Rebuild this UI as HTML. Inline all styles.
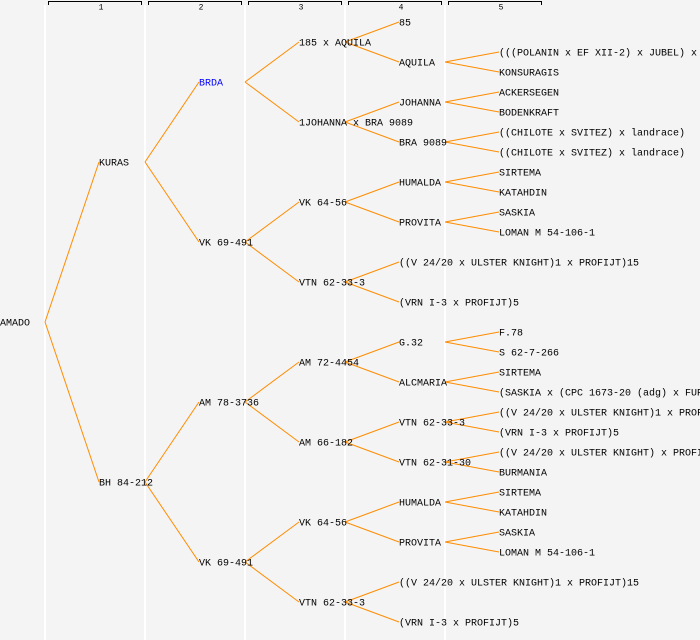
<!DOCTYPE html>
<html><head><meta charset="utf-8"><style>
html,body{margin:0;padding:0;background:#f4f4f4;}
svg{display:block;}
text{font-family:"Liberation Mono",monospace;font-size:10px;fill:#000;dominant-baseline:central;}
.h{font-size:8px;text-anchor:middle;}
line.c{stroke:#ff8c00;stroke-width:1;}
line.v{stroke:#fff;stroke-width:2;}
</style></head><body>
<svg width="700" height="640" viewBox="0 0 700 640">
<rect width="700" height="640" fill="#f4f4f4"/>
<g>
<line class="v" x1="45" y1="5" x2="45" y2="640"/>
<line class="v" x1="145" y1="5" x2="145" y2="640"/>
<line class="v" x1="245" y1="5" x2="245" y2="640"/>
<line class="v" x1="345" y1="5" x2="345" y2="640"/>
<line class="v" x1="445" y1="5" x2="445" y2="640"/>
</g>
<g fill="none" stroke="#000" stroke-width="1">
<path d="M48.5 5V1.5H141.5V5"/>
<path d="M148.5 5V1.5H241.5V5"/>
<path d="M248.5 5V1.5H341.5V5"/>
<path d="M348.5 5V1.5H441.5V5"/>
<path d="M448.5 5V1.5H541.5V5"/>
</g>
<text class="h" x="101" y="8">1</text>
<text class="h" x="201" y="8">2</text>
<text class="h" x="301" y="8">3</text>
<text class="h" x="401" y="8">4</text>
<text class="h" x="501" y="8">5</text>
<g>
<line class="c" x1="45" y1="322" x2="99" y2="162"/><line class="c" x1="45" y1="322" x2="99" y2="482"/>
<line class="c" x1="145" y1="162" x2="199" y2="82"/><line class="c" x1="145" y1="162" x2="199" y2="242"/>
<line class="c" x1="145" y1="482" x2="199" y2="402"/><line class="c" x1="145" y1="482" x2="199" y2="562"/>
<line class="c" x1="245" y1="82" x2="299" y2="42"/><line class="c" x1="245" y1="82" x2="299" y2="122"/>
<line class="c" x1="245" y1="242" x2="299" y2="202"/><line class="c" x1="245" y1="242" x2="299" y2="282"/>
<line class="c" x1="245" y1="402" x2="299" y2="362"/><line class="c" x1="245" y1="402" x2="299" y2="442"/>
<line class="c" x1="245" y1="562" x2="299" y2="522"/><line class="c" x1="245" y1="562" x2="299" y2="602"/>
<line class="c" x1="345" y1="42" x2="399" y2="22"/><line class="c" x1="345" y1="42" x2="399" y2="62"/>
<line class="c" x1="345" y1="122" x2="399" y2="102"/><line class="c" x1="345" y1="122" x2="399" y2="142"/>
<line class="c" x1="345" y1="202" x2="399" y2="182"/><line class="c" x1="345" y1="202" x2="399" y2="222"/>
<line class="c" x1="345" y1="282" x2="399" y2="262"/><line class="c" x1="345" y1="282" x2="399" y2="302"/>
<line class="c" x1="345" y1="362" x2="399" y2="342"/><line class="c" x1="345" y1="362" x2="399" y2="382"/>
<line class="c" x1="345" y1="442" x2="399" y2="422"/><line class="c" x1="345" y1="442" x2="399" y2="462"/>
<line class="c" x1="345" y1="522" x2="399" y2="502"/><line class="c" x1="345" y1="522" x2="399" y2="542"/>
<line class="c" x1="345" y1="602" x2="399" y2="582"/><line class="c" x1="345" y1="602" x2="399" y2="622"/>
<line class="c" x1="445" y1="62" x2="499" y2="52"/><line class="c" x1="445" y1="62" x2="499" y2="72"/>
<line class="c" x1="445" y1="102" x2="499" y2="92"/><line class="c" x1="445" y1="102" x2="499" y2="112"/>
<line class="c" x1="445" y1="142" x2="499" y2="132"/><line class="c" x1="445" y1="142" x2="499" y2="152"/>
<line class="c" x1="445" y1="182" x2="499" y2="172"/><line class="c" x1="445" y1="182" x2="499" y2="192"/>
<line class="c" x1="445" y1="222" x2="499" y2="212"/><line class="c" x1="445" y1="222" x2="499" y2="232"/>
<line class="c" x1="445" y1="342" x2="499" y2="332"/><line class="c" x1="445" y1="342" x2="499" y2="352"/>
<line class="c" x1="445" y1="382" x2="499" y2="372"/><line class="c" x1="445" y1="382" x2="499" y2="392"/>
<line class="c" x1="445" y1="422" x2="499" y2="412"/><line class="c" x1="445" y1="422" x2="499" y2="432"/>
<line class="c" x1="445" y1="462" x2="499" y2="452"/><line class="c" x1="445" y1="462" x2="499" y2="472"/>
<line class="c" x1="445" y1="502" x2="499" y2="492"/><line class="c" x1="445" y1="502" x2="499" y2="512"/>
<line class="c" x1="445" y1="542" x2="499" y2="532"/><line class="c" x1="445" y1="542" x2="499" y2="552"/>
</g>
<g transform="translate(0,2)">
<text x="0" y="322">AMADO</text>
<text x="99" y="162">KURAS</text>
<text x="99" y="482">BH 84-212</text>
<text x="199" y="82" style="fill:#0000ff">BRDA</text>
<text x="199" y="242">VK 69-491</text>
<text x="199" y="402">AM 78-3736</text>
<text x="199" y="562">VK 69-491</text>
<text x="299" y="42">185 x AQUILA</text>
<text x="299" y="122">1JOHANNA x BRA 9089</text>
<text x="299" y="202">VK 64-56</text>
<text x="299" y="282">VTN 62-33-3</text>
<text x="299" y="362">AM 72-4454</text>
<text x="299" y="442">AM 66-182</text>
<text x="299" y="522">VK 64-56</text>
<text x="299" y="602">VTN 62-33-3</text>
<text x="399" y="22">85</text>
<text x="399" y="62">AQUILA</text>
<text x="399" y="102">JOHANNA</text>
<text x="399" y="142">BRA 9089</text>
<text x="399" y="182">HUMALDA</text>
<text x="399" y="222">PROVITA</text>
<text x="399" y="262">((V 24/20 x ULSTER KNIGHT)1 x PROFIJT)15</text>
<text x="399" y="302">(VRN I-3 x PROFIJT)5</text>
<text x="399" y="342">G.32</text>
<text x="399" y="382">ALCMARIA</text>
<text x="399" y="422">VTN 62-33-3</text>
<text x="399" y="462">VTN 62-31-30</text>
<text x="399" y="502">HUMALDA</text>
<text x="399" y="542">PROVITA</text>
<text x="399" y="582">((V 24/20 x ULSTER KNIGHT)1 x PROFIJT)15</text>
<text x="399" y="622">(VRN I-3 x PROFIJT)5</text>
<text x="499" y="52">(((POLANIN x EF XII-2) x JUBEL) x</text>
<text x="499" y="72">KONSURAGIS</text>
<text x="499" y="92">ACKERSEGEN</text>
<text x="499" y="112">BODENKRAFT</text>
<text x="499" y="132">((CHILOTE x SVITEZ) x landrace)</text>
<text x="499" y="152">((CHILOTE x SVITEZ) x landrace)</text>
<text x="499" y="172">SIRTEMA</text>
<text x="499" y="192">KATAHDIN</text>
<text x="499" y="212">SASKIA</text>
<text x="499" y="232">LOMAN M 54-106-1</text>
<text x="499" y="332">F.78</text>
<text x="499" y="352">S 62-7-266</text>
<text x="499" y="372">SIRTEMA</text>
<text x="499" y="392">(SASKIA x (CPC 1673-20 (adg) x FUR</text>
<text x="499" y="412">((V 24/20 x ULSTER KNIGHT)1 x PROFIJT)15</text>
<text x="499" y="432">(VRN I-3 x PROFIJT)5</text>
<text x="499" y="452">((V 24/20 x ULSTER KNIGHT) x PROFIJT)</text>
<text x="499" y="472">BURMANIA</text>
<text x="499" y="492">SIRTEMA</text>
<text x="499" y="512">KATAHDIN</text>
<text x="499" y="532">SASKIA</text>
<text x="499" y="552">LOMAN M 54-106-1</text>
</g>
</svg>
</body></html>
